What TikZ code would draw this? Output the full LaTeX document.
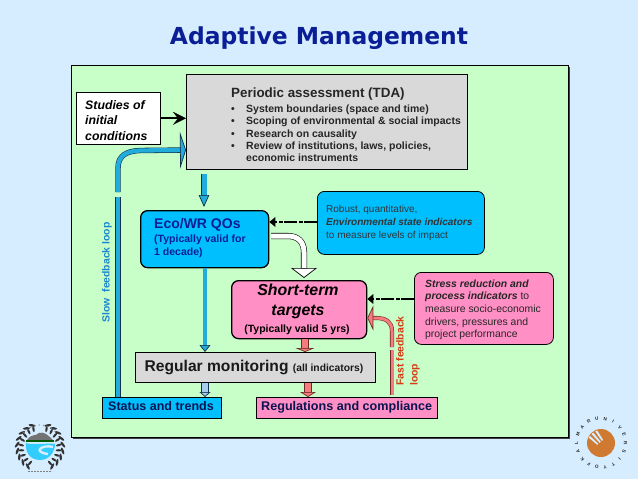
\documentclass[tikz,border=0pt]{standalone}
\usepackage{fontspec}
\setmainfont{Liberation Sans}
\newfontfamily\titlefont{DejaVu Sans}
\usetikzlibrary{arrows.meta,calc,shapes.geometric}
\definecolor{pagebg}{HTML}{D6ECFF}
\definecolor{panelg}{HTML}{C8FFC8}
\definecolor{greyb}{HTML}{D9D9D9}
\definecolor{skyb}{HTML}{00BFFF}
\definecolor{pinkb}{HTML}{FF8FC4}
\definecolor{navy}{HTML}{0A1E96}
\definecolor{deepnavy}{HTML}{0A1450}
\definecolor{arrowb}{HTML}{22ACDC}
\definecolor{salmon}{HTML}{F47C7C}
\definecolor{paleb}{HTML}{A8CCF0}
\definecolor{slowc}{HTML}{1A88D0}
\definecolor{fastc}{HTML}{D83A14}
\definecolor{lineb}{HTML}{10304A}
\definecolor{liner}{HTML}{6E2A2A}
\definecolor{orangeb}{HTML}{CF7A30}
\tikzset{
  box/.style={draw=black,line width=.9pt,inner sep=0pt,anchor=north west},
  rbox/.style={box,rounded corners=7pt},
  dashlink/.style={draw=black,line width=2.8pt,dash pattern=on 13pt off 1.5pt on 4pt off 1.5pt,-{Triangle[length=6pt,width=10pt,line width=0pt,fill=black]}},
  txt/.style={inner sep=0pt,align=left,anchor=north west},
  leaf/.style={fill=black!80},
}
% #1 fill, #2 outline, #3 width, #4 head length, #5 head width, #6 path
\newcommand{\blockarrow}[6]{%
  \draw[#2,line width=#3pt+1.1pt,shorten >=#4pt-1pt] #6;
  \draw[#1,line width=#3pt,-{Triangle[length=#4pt,width=#5pt,line width=.7pt,color=#2,fill=#1]}] #6;
}
\begin{document}
\begin{tikzpicture}[x=1pt,y=-1pt,line cap=butt]
\useasboundingbox (0,0) rectangle (638,479);
\fill[pagebg] (0,0) rectangle (638,479);
\node[font=\titlefont\bfseries\fontsize{23.4}{28}\selectfont,text=navy,inner sep=0pt] (title) at (319,38.5) {Adaptive Management};
% panel
\fill[black!75] (73,67) rectangle (570,439);
\node[box,fill=panelg,minimum width=497pt,minimum height=372pt,line width=.6pt] (panel) at (71,65) {};
% boxes
\node[box,fill=greyb,minimum width=281pt,minimum height=95pt,line width=.7pt] (assess) at (186,74) {};
\node[box,fill=white,minimum width=84pt,minimum height=52pt,line width=.7pt] (studies) at (76,92) {};
\node[rbox,fill=skyb,minimum width=128pt,minimum height=57pt,line width=1.3pt] (eco) at (140,210) {};
\node[rbox,fill=skyb,minimum width=167pt,minimum height=63pt,line width=.8pt] (robust) at (317,191) {};
\node[rbox,fill=pinkb,minimum width=135pt,minimum height=58pt,line width=1.3pt] (short) at (231,280) {};
\node[rbox,fill=pinkb,minimum width=139pt,minimum height=72pt,line width=.8pt] (stress) at (414,272) {};
\node[box,fill=greyb,minimum width=240pt,minimum height=30pt,line width=.7pt] (monitor) at (135,352) {};
\node[box,fill=skyb,minimum width=119pt,minimum height=21pt,line width=.7pt] (status) at (102,397) {};
\node[box,fill=pinkb,minimum width=181pt,minimum height=21pt,line width=.7pt] (regs) at (256,397) {};
% texts
\node[txt,font=\bfseries\itshape\fontsize{12.3}{15.2}\selectfont] (t1) at (85,100.5) {Studies of\\initial\\conditions};
\node[txt,font=\bfseries\fontsize{13.4}{15}\selectfont,text=black!85] (t2) at (231,87.5) {Periodic assessment (TDA)};
\foreach \yy/\ttt in {104.5/{System boundaries (space and time)},117/{Scoping of environmental \& social impacts},129.5/{Research on causality},141.5/{Review of institutions, laws, policies,}}{
  \node[txt,font=\bfseries\fontsize{10.5}{12}\selectfont,text=black!85] at (246,\yy) {\vphantom{(g}\ttt};
  \node[txt,font=\bfseries\fontsize{10.5}{12}\selectfont,text=black!85] at (231,\yy) {\vphantom{(g}•};
}
\node[txt,font=\bfseries\fontsize{10.5}{12}\selectfont,text=black!85] at (246,154) {\vphantom{(g}economic instruments};
\node[txt,font=\bfseries\fontsize{14}{15}\selectfont,text=navy] at (154,218.5) {Eco/WR QOs};
\node[txt,font=\bfseries\fontsize{10.5}{13}\selectfont,text=navy] at (154,235) {(Typically valid for\\1 decade)};
\node[txt,font=\fontsize{10}{12.7}\selectfont,text=black!80] at (326,205.5) {Robust, quantitative,\\\textbf{\textit{Environmental state indicators}}\\to measure levels of impact};
\node[txt,font=\bfseries\itshape\fontsize{15.9}{19.5}\selectfont,align=center,anchor=north] at (298,284) {Short-term\\targets};
\node[txt,font=\bfseries\fontsize{10.5}{12}\selectfont,anchor=north] at (297,325) {(Typically valid 5 yrs)};
\node[txt,font=\fontsize{10.4}{12.6}\selectfont,text=black!85] at (425,279.5) {\textbf{\textit{Stress reduction and}}\\\textbf{\textit{process indicators}} to\\measure socio-economic\\drivers, pressures and\\project performance};
\node[txt,font=\bfseries\fontsize{15.6}{16}\selectfont,anchor=west,text=black!90] at (144.5,367) {Regular monitoring {\fontsize{10.3}{12}\selectfont (all indicators)}};
\node[txt,font=\bfseries\fontsize{12.5}{14}\selectfont,anchor=west,text=deepnavy] at (108,406) {Status and trends};
\node[txt,font=\bfseries\fontsize{12.6}{14}\selectfont,anchor=west,text=deepnavy] at (261,407) {Regulations and compliance};
\node[inner sep=0pt,font=\bfseries\fontsize{10.4}{12}\selectfont,text=slowc,rotate=90] (slowl) at (107,272.5) {Slow\ \ feedback loop};
\node[inner sep=0pt,font=\bfseries\fontsize{10.4}{14}\selectfont,text=fastc,rotate=90,align=left] (fastl) at (408,351) {Fast feedback\\loop};
% connectors
\coordinate (slowa) at (118,396.5);
\coordinate (slowb) at (118,197);
\coordinate (slowc1) at (118,192);
\coordinate (fasta) at (392,395);
\coordinate (fastb) at (392,350);
\coordinate (fastc1) at (392,347);
\draw[black,line width=1.8pt,-{Stealth[length=13pt,width=13pt,inset=5pt,line width=.2pt]}] (studies.east) -- (studies.east -| assess.west);
\draw[lineb,line width=5.4pt] (slowa) -- (slowb);
\draw[arrowb,line width=4.3pt] (slowa) -- (slowb);
\blockarrow{arrowb}{lineb}{4.3}{6}{37}{(slowc1) -- (118,168) .. controls (118,156) and (126,151) .. (140,150.5) -- (assess.west |- 0,150)}
\blockarrow{arrowb}{lineb}{5}{12}{10.5}{(204,174) -- ($(eco.north -| 204,0)+(0,-3)$)}
\blockarrow{arrowb}{lineb}{3.6}{7}{11}{(eco.south -| 205,0) -- (monitor.north -| 205,0)}
\blockarrow{white}{black}{5}{10}{26}{(271,236) -- (288,236) .. controls (298,236) and (304,242) .. (304,252) -- ($(short.north -| 304,0)+(0,-2)$)}
\blockarrow{salmon}{liner}{6.5}{4}{19}{(short.south -| 305,0) -- (monitor.north -| 305,0)}
\blockarrow{paleb}{lineb}{6.5}{5}{11}{(monitor.south -| 205,0) -- (status.north -| 205,0)}
\blockarrow{salmon}{liner}{6.5}{5}{16}{(monitor.south -| 308,0) -- (regs.north -| 308,0)}
\draw[liner,line width=4.1pt] (fasta) -- (fastb);
\draw[salmon,line width=3pt] (fasta) -- (fastb);
\blockarrow{salmon}{liner}{3}{6}{25}{(fastc1) -- (392,331) .. controls (392,322) and (386,318) .. (376,318) -- (short.east |- 0,318)}
\draw[dashlink] (robust.west |- 0,222) -- (eco.east |- 0,222);
\draw[dashlink] (stress.west |- 0,299) -- (short.east |- 0,299);
% left logo
\begin{scope}[shift={(40,447)}]
  \foreach \s in {-1,1}{
    \begin{scope}[xscale=\s]
      \foreach \a in {110,126,...,240}{
        \fill[leaf,rotate around={\a+60:({23*cos(\a)},{23*sin(\a+180)})}] ({23*cos(\a)+0},{23*sin(\a+180)}) ellipse (3.6pt and 1.2pt);
        \fill[leaf,rotate around={\a-10:({19*cos(\a)},{19*sin(\a+180)})}] ({19*cos(\a)+0},{19*sin(\a+180)}) ellipse (3pt and 1.1pt);
      }
    \end{scope}
  }
  \fill[black!55] (-13,-7) .. controls (-8,-14) and (-5,-10) .. (-1,-14) .. controls (4,-16) and (9,-11) .. (13,-7) -- cycle;
  \fill[green!35!black] (-14,-7) rectangle (14,-5);
  \fill[skyb!80!white] (-14,-4) .. controls (-10,-2) and (8,-4) .. (15,-3) .. controls (15,4) and (10,13) .. (0,13) .. controls (-10,13) and (-15,5) .. (-14,-4) -- cycle;
  \draw[pagebg,line width=2.4pt] (13,0) .. controls (2,-3) and (-8,5) .. (8,7);
  \foreach \a in {-50,-38,...,50}{
    \fill[black!50] ({21*sin(\a)},{-1-21*cos(\a)}) circle (.7pt);
  }
  \draw[black!50,line width=1.2pt,dash pattern=on 2pt off 1pt] (-12,24.5) -- (12,24.5);
\end{scope}
% right logo
\begin{scope}[shift={(601,443)}]
  \fill[orangeb] (0,0) circle (14pt);
  \begin{scope}[rotate=40]
    \fill[pagebg] (-6,-12) -- (-3.8,-12.6) -- (-2.6,-1) -- (-4,-1) -- cycle;
    \fill[pagebg] (-1.5,-13) -- (.8,-13) -- (.6,-1) -- (-1,-1) -- cycle;
    \fill[pagebg] (3,-12.6) -- (5.2,-12) -- (3.6,-1) -- (2,-1) -- cycle;
  \end{scope}
  \foreach \c [count=\i] in {U,N,I,V,E,R,S,I,T,Y,O,F,K,A,L,M,A,R}{
    \pgfmathsetmacro{\a}{-30+20*\i}
    \node[inner sep=0pt,font=\bfseries\fontsize{4.6}{5}\selectfont,text=black!85,rotate=-\a] at ({24.5*sin(\a)},{-24.5*cos(\a)}) {\c};
  }
\end{scope}
\end{tikzpicture}
\end{document}
